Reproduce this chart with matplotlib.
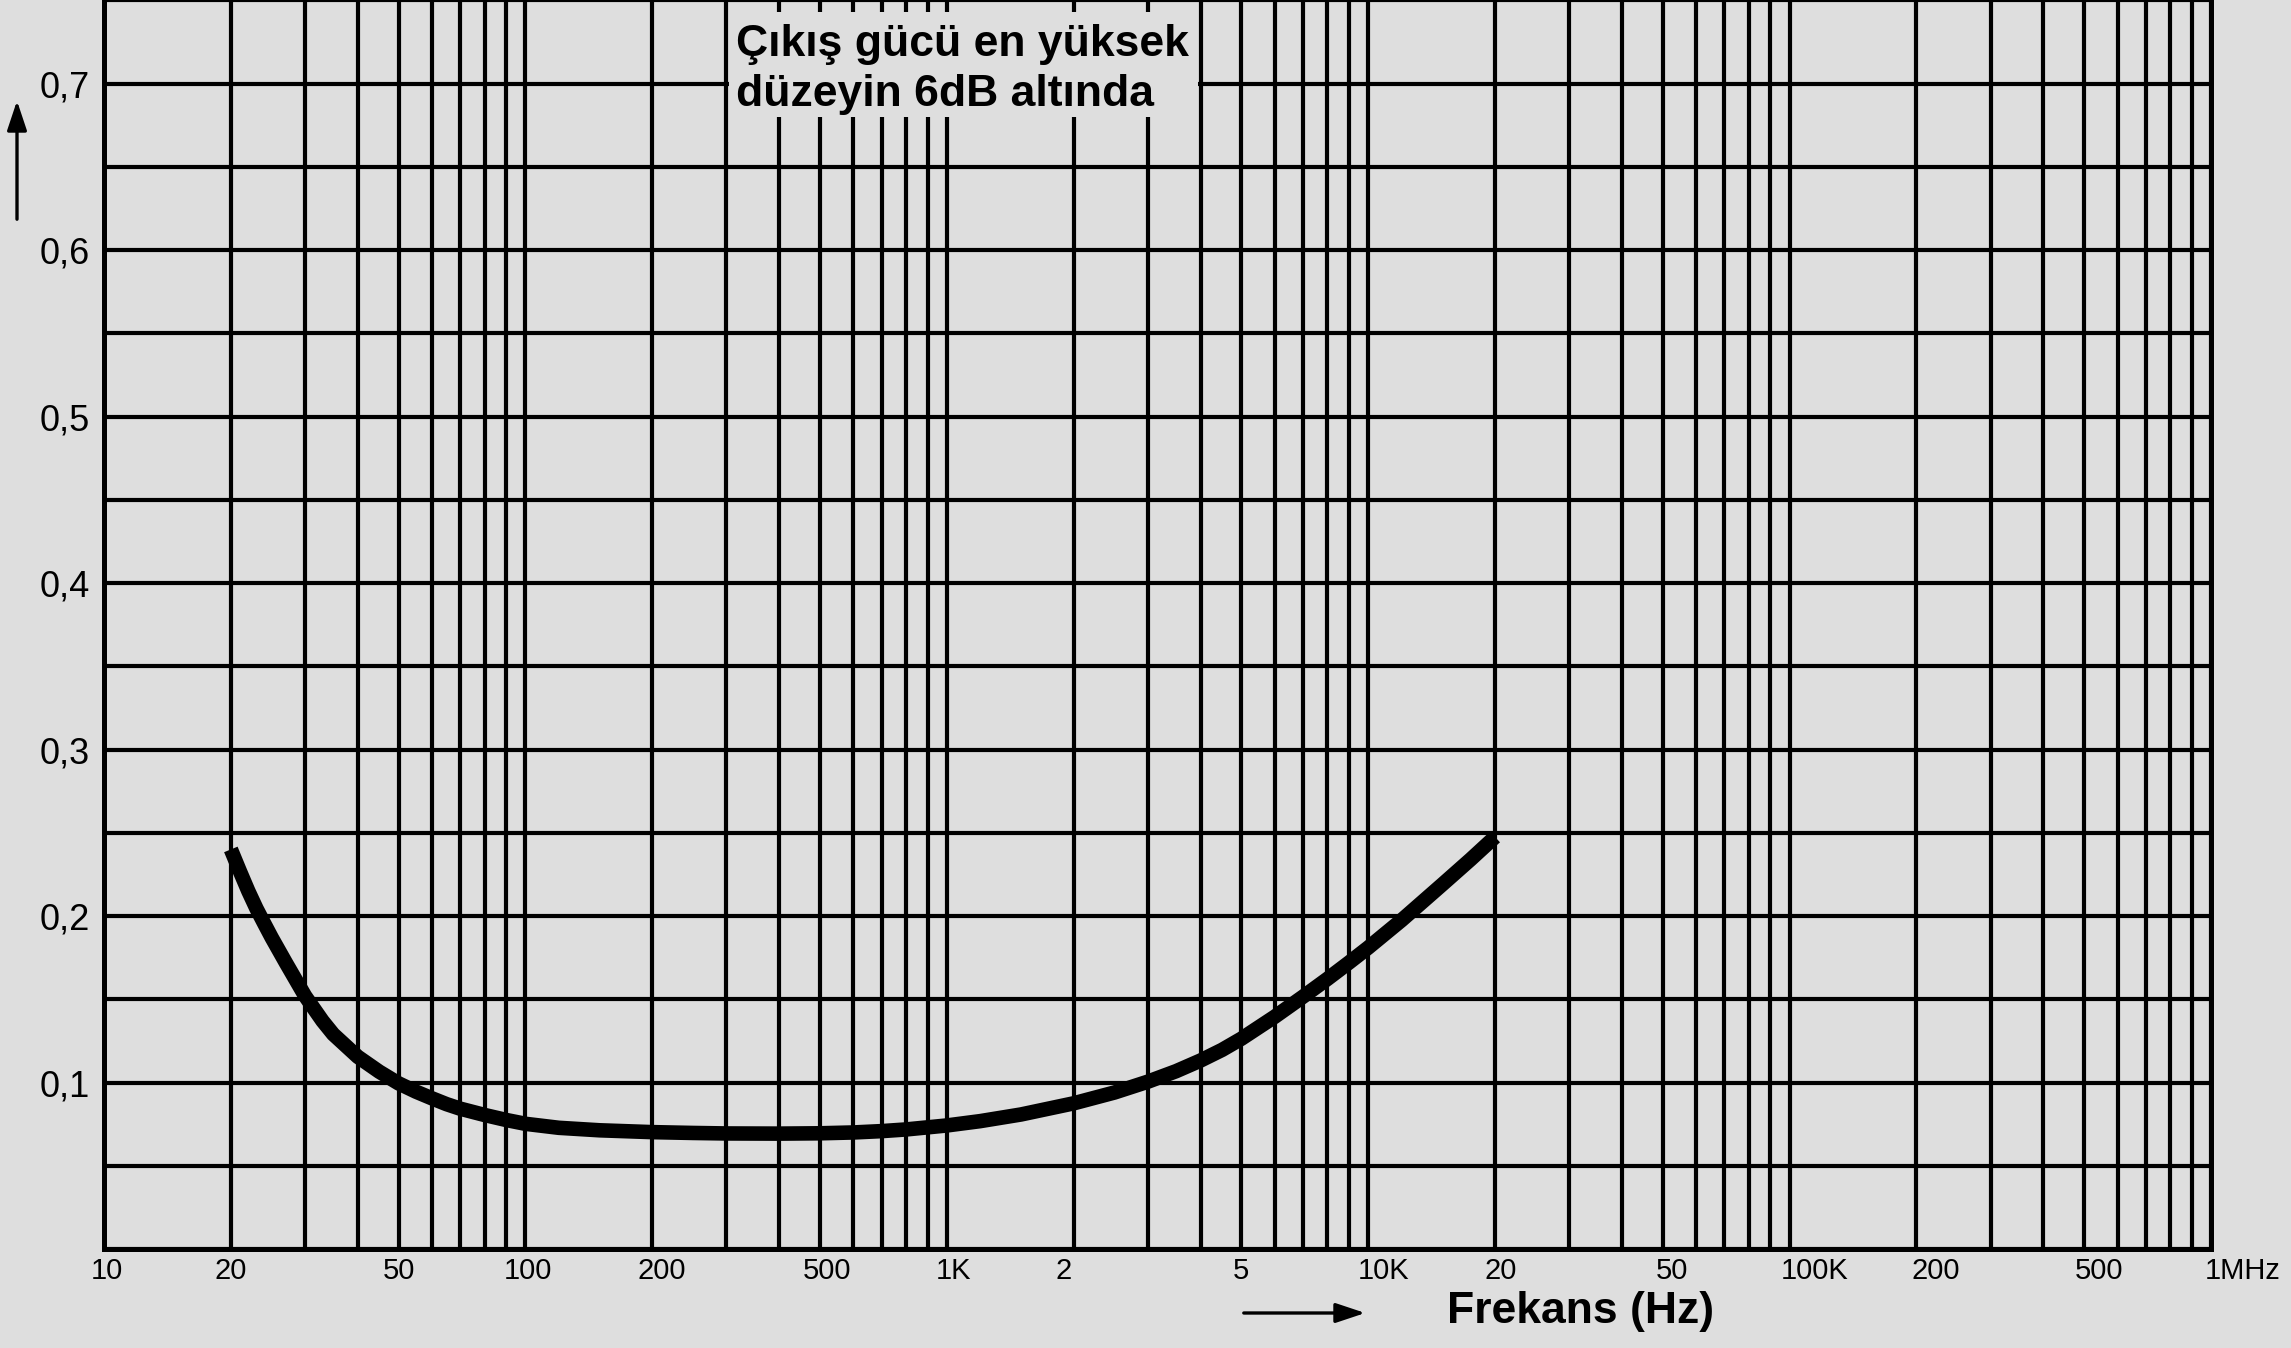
import matplotlib
matplotlib.use("Agg")
import matplotlib.pyplot as plt
from matplotlib.ticker import LogLocator, MultipleLocator, NullFormatter
from matplotlib.transforms import ScaledTranslation
from matplotlib.patches import Rectangle, FancyArrowPatch
from matplotlib import font_manager

# ---- data ----
freq_hz = [20, 21, 22, 23, 24, 25, 27, 30, 33, 35, 40, 45, 50, 55, 60, 65, 70, 80, 90,
           100, 120, 150, 200, 250, 300, 400, 500, 600, 700, 800, 1000, 1200, 1500,
           2000, 2500, 3000, 3500, 4000, 4500, 5000, 6000, 7000, 8000, 9000, 10000,
           12000, 15000, 17500, 20000]
level = [0.240, 0.227, 0.215, 0.2045, 0.1955, 0.187, 0.172, 0.152, 0.137, 0.129, 0.1155,
         0.1065, 0.0995, 0.0945, 0.0905, 0.0870, 0.0843, 0.0805, 0.0775,
         0.0752, 0.0728, 0.0713, 0.0702, 0.0697, 0.0694, 0.0693, 0.0695, 0.0700, 0.0708,
         0.0718, 0.0742, 0.0768, 0.0808,
         0.0875, 0.0940, 0.1005, 0.1068, 0.1132, 0.1196, 0.1263, 0.1395, 0.1515, 0.1622,
         0.1720, 0.1810, 0.1975, 0.2190, 0.2340, 0.2475]

xtick_vals = [10, 20, 50, 100, 200, 500, 1e3, 2e3, 5e3, 1e4, 2e4, 5e4, 1e5, 2e5, 5e5, 1e6]
xtick_labels = ['10', '20', '50', '100', '200', '500', '1K', '2', '5', '10K', '20', '50',
                '100K', '200', '500', '1MHz']
ytick_vals = [0.1, 0.2, 0.3, 0.4, 0.5, 0.6, 0.7]
ytick_labels = ['0,1', '0,2', '0,3', '0,4', '0,5', '0,6', '0,7']

note_text = "Çıkış gücü en yüksek\ndüzeyin 6dB altında"
xlabel_text = "Frekans (Hz)"

# ---- style ----
BG = '#dedede'
LW = 3.0
installed = {f.name for f in font_manager.fontManager.ttflist}
narrow = 'Liberation Sans Narrow' if 'Liberation Sans Narrow' in installed else 'Liberation Sans'
xlabel_offsets_px = [3, 0, 0, 3, 9, 7, 7, -10, 0, 15, 6, 9, 25, 19, 15, 32]

fig = plt.figure(figsize=(22.91, 13.48), dpi=100)
fig.patch.set_facecolor(BG)
W, H = 2291, 1348
ax = fig.add_axes([104 / W, 1 - 1249 / H, (2211 - 104) / W, 1252 / H])
ax.set_facecolor(BG)
ax.set_xscale('log')
ax.set_xlim(10, 1e6)
ax.set_ylim(0, 0.752)

ax.set_xticks(xtick_vals, xtick_labels)
ax.xaxis.set_minor_locator(LogLocator(base=10, subs=range(2, 10), numticks=100))
ax.xaxis.set_minor_formatter(NullFormatter())
ax.set_yticks(ytick_vals, ytick_labels)
ax.yaxis.set_minor_locator(MultipleLocator(0.05))

ax.set_axisbelow(True)
ax.grid(which='both', color='black', linewidth=LW)
ax.tick_params(which='both', length=0)
ax.tick_params(axis='x', pad=6, labelsize=21)
ax.tick_params(axis='y', pad=10, labelsize=26)
for lbl in ax.get_xticklabels():
    lbl.set_family(narrow)
for lbl in ax.get_yticklabels():
    lbl.set_family('Liberation Sans')
for lbl, dx in zip(ax.get_xticklabels(), xlabel_offsets_px):
    lbl.set_transform(lbl.get_transform() + ScaledTranslation(dx / 100, 0, fig.dpi_scale_trans))

for s in ['left', 'right', 'bottom']:
    ax.spines[s].set_linewidth(LW + 0.6)
    ax.spines[s].set_color('black')
ax.spines['top'].set_visible(False)

# note box covering the grid
ax.add_patch(Rectangle((300 * 1.013, 0.680), 4000 * 0.987 - 300 * 1.013, 0.743 - 0.680,
                       facecolor=BG, edgecolor='none', zorder=1))
ax.text(316, 0.7085, note_text, fontsize=32, fontweight='bold', family='Liberation Sans',
        ha='left', va='center', linespacing=1.3, zorder=4)

# curve
ax.plot(freq_hz, level, color='black', linewidth=10.5, solid_capstyle='butt',
        solid_joinstyle='round', zorder=3)

# axis arrows and label
fig.patches.append(FancyArrowPatch(
    (17 / W, 1 - 222 / H), (17 / W, 1 - 98 / H), transform=fig.transFigure,
    arrowstyle='-|>,head_length=0.9,head_width=0.3', mutation_scale=20,
    color='black', linewidth=2.4))
fig.patches.append(FancyArrowPatch(
    (1241 / W, 1 - 1313 / H), (1368 / W, 1 - 1313 / H), transform=fig.transFigure,
    arrowstyle='-|>,head_length=0.9,head_width=0.3', mutation_scale=20,
    color='black', linewidth=2.4))
fig.text(1447 / W, 1 - 1311 / H, xlabel_text, fontsize=32, fontweight='bold',
         family='Liberation Sans', ha='left', va='center')

fig.savefig('out.png', dpi=100, facecolor=BG)
